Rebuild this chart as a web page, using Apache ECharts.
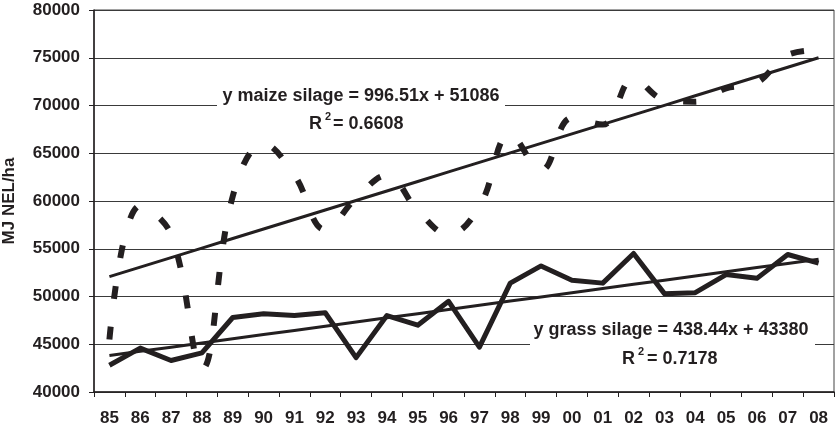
<!DOCTYPE html>
<html>
<head>
<meta charset="utf-8">
<script src="https://cdn.jsdelivr.net/npm/echarts@6/dist/echarts.min.js"></script>
<style>
html,body{margin:0;padding:0;background:#fff;}
#c{width:837px;height:430px;}
</style>
</head>
<body>
<div id="c"></div>
<script>
var categories = ['85','86','87','88','89','90','91','92','93','94','95','96','97','98','99','00','01','02','03','04','05','06','07','08'];
var maizeSilage = [45500,59500,56500,42400,60500,66000,62700,57000,60300,62700,59000,56500,59400,67000,63200,68700,68000,72800,70600,70400,71800,72400,75300,75800];
var grassSilage = [42800,44600,43300,44100,47800,48200,48000,48300,43600,48000,47000,49500,44700,51400,53200,51700,51400,54500,50300,50400,52300,51900,54400,53500];
var maizeTrend = {slope: 996.51, intercept: 51086, r2: '0.6608'};
var grassTrend = {slope: 438.44, intercept: 43380, r2: '0.7178'};
var yMin = 40000, yMax = 80000, yStep = 5000;
var yTitle = 'MJ NEL/ha';

var INK = '#231f20';
var FONT = 'Liberation Sans, Arial, sans-serif';

function trendData(t){ return categories.map(function(c,i){ return +(t.slope*(i+1)+t.intercept).toFixed(2); }); }

var chart = echarts.init(document.getElementById('c'), null, {renderer:'canvas'});

function txt(x, y, s, size, align){
  return {type:'text', x:x, y:y, z:1, silent:true,
    style:{text:s, fill:INK, font:'bold '+size+'px '+FONT, textAlign:align||'center', align:align||'center', textVerticalAlign:'middle', verticalAlign:'middle'}};
}

chart.setOption({
  animation:false,
  backgroundColor:'#fff',
  grid:{left:94, right:3, top:10, bottom:38, containLabel:false, outerBoundsMode:'none', show:true, borderColor:'#444', borderWidth:1, backgroundColor:'transparent'},
  xAxis:{
    type:'category', data:categories, boundaryGap:true,
    axisLine:{lineStyle:{color:INK, width:1.5}},
    axisTick:{show:true, length:5, inside:false, alignWithLabel:false, lineStyle:{color:INK, width:1}},
    axisLabel:{color:INK, fontFamily:FONT, fontWeight:'bold', fontSize:17, margin:18, interval:0},
    splitLine:{show:false}
  },
  yAxis:{
    type:'value', min:yMin, max:yMax, interval:yStep,
    name:yTitle, nameLocation:'middle', nameGap:76, nameRotate:90, nameMoveOverlap:false,
    nameTextStyle:{color:INK, fontFamily:FONT, fontWeight:'bold', fontSize:17},
    axisLine:{show:true, lineStyle:{color:INK, width:1.5}},
    axisTick:{show:true, length:5, inside:false, lineStyle:{color:INK, width:1}},
    axisLabel:{color:INK, fontFamily:FONT, fontWeight:'bold', fontSize:17, margin:14, formatter:function(v){ return String(v); }},
    splitLine:{show:true, lineStyle:{color:'#3a3a3a', width:1}}
  },
  graphic:[
    {type:'rect', z:1, silent:true, shape:{x:217, y:86, width:288, height:44}, style:{fill:'#fff'}},
    txt(361, 96, 'y maize silage = ' + maizeTrend.slope + 'x + ' + maizeTrend.intercept, 18),
    txt(322, 124, 'R', 18, 'right'),
    txt(328, 117, '2', 11),
    txt(333, 124, '= ' + maizeTrend.r2, 18, 'left'),
    {type:'rect', z:1, silent:true, shape:{x:530, y:320, width:285, height:48}, style:{fill:'#fff'}},
    txt(671, 330, 'y grass silage = ' + grassTrend.slope + 'x + ' + grassTrend.intercept, 18),
    txt(635, 359, 'R', 18, 'right'),
    txt(641, 352, '2', 11),
    txt(647, 359, '= ' + grassTrend.r2, 18, 'left')
  ],
  series:[
    {name:'maize silage', type:'line', data:maizeSilage, smooth:0.4, symbol:'none', z:3,
      lineStyle:{color:INK, width:6, type:[13,28], cap:'butt'}},
    {name:'grass silage', type:'line', data:grassSilage, smooth:false, symbol:'none', z:3,
      lineStyle:{color:INK, width:5, join:'round'}},
    {name:'maize trend', type:'line', data:trendData(maizeTrend), symbol:'none', z:4,
      lineStyle:{color:INK, width:3}},
    {name:'grass trend', type:'line', data:trendData(grassTrend), symbol:'none', z:4,
      lineStyle:{color:INK, width:3}}
  ]
});
</script>
</body>
</html>
